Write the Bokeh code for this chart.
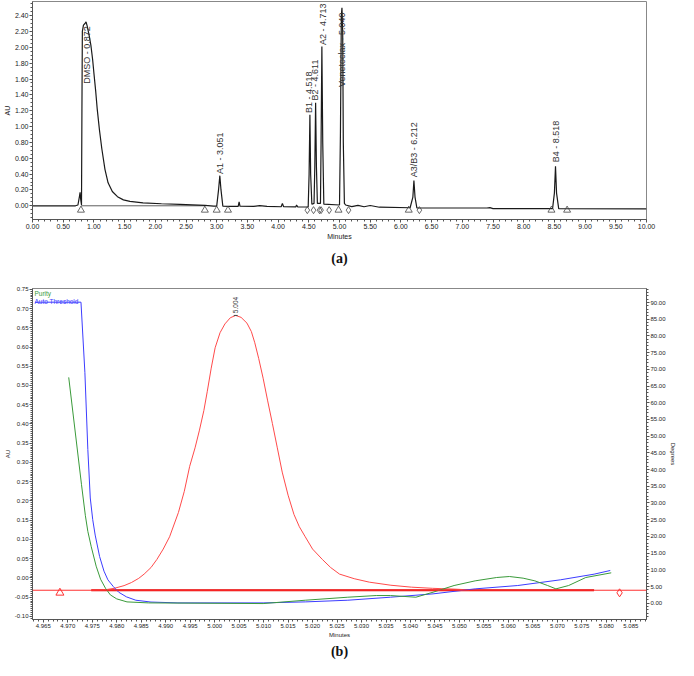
import math
from bokeh.plotting import figure
from bokeh.models import (Range1d, LinearAxis, SingleIntervalTicker, PrintfTickFormatter,
                          Label, Span, Title)
from bokeh.layouts import column
from bokeh.embed import file_html
from bokeh.resources import INLINE

# ---------------- Panel (a): full chromatogram ----------------
trace_min = [0.00, 0.70, 0.74, 0.765, 0.775, 0.785, 0.798, 0.805, 0.812, 0.830, 0.855, 0.872, 0.890,
             0.920, 0.952, 0.980, 1.002, 1.030, 1.053, 1.090, 1.129, 1.180, 1.231, 1.300, 1.384,
             1.480, 1.587, 1.800, 2.100, 2.400, 2.600, 2.810, 2.950, 3.000, 3.030, 3.051, 3.070,
             3.100, 3.200, 3.350, 3.365, 3.380, 3.600, 3.700, 3.820, 4.050, 4.070, 4.090, 4.290,
             4.300, 4.320, 4.490, 4.505, 4.518, 4.530, 4.550, 4.585, 4.598, 4.611, 4.624, 4.640,
             4.690, 4.700, 4.713, 4.727, 4.745, 5.000, 5.015, 5.030, 5.040, 5.052, 5.062, 5.080,
             5.100, 5.200, 5.300, 5.400, 5.500, 5.650, 6.150, 6.195, 6.212, 6.230, 6.260, 7.400,
             7.450, 7.500, 8.470, 8.500, 8.518, 8.535, 8.570, 10.00]
trace_au = [0.000, 0.000, 0.010, 0.120, 0.170, 0.080, 0.010, 1.200, 2.200, 2.280, 2.300, 2.320, 2.270,
            2.160, 2.020, 1.840, 1.660, 1.440, 1.230, 0.960, 0.720, 0.460, 0.290, 0.180, 0.115,
            0.075, 0.055, 0.038, 0.026, 0.018, 0.012, 0.006, -0.004, -0.004, 0.200, 0.380, 0.200,
            -0.005, -0.008, -0.008, 0.050, -0.006, -0.008, 0.002, -0.008, -0.012, 0.030, -0.012, -0.014,
            0.010, -0.014, -0.015, 0.400, 1.150, 0.400, 0.020, 0.030, 0.500, 1.300, 0.500, 0.030,
            0.030, 0.800, 2.010, 0.800, 0.020, 0.010, 0.900, 2.400, 2.500, 2.200, 0.800, 0.030,
            0.010, -0.010, 0.006, -0.012, 0.004, -0.018, -0.025, 0.110, 0.320, 0.110, -0.026, -0.028,
            -0.024, -0.036, -0.036, 0.160, 0.500, 0.160, -0.036, -0.038]

peak_labels = ["DMSO - 0.872", "A1 - 3.051", "B1 - 4.518", "B2 - 4.611", "A2 - 4.713",
               "Venetoclax - 5.040", "A3/B3 - 6.212", "B4 - 8.518"]
label_min = [0.885, 3.051, 4.505, 4.605, 4.725, 5.045, 6.215, 8.520]
label_au = [1.54, 0.40, 1.17, 1.33, 2.03, 1.50, 0.36, 0.55]

start_marks = [0.789, 2.807, 3.000, 3.184, 4.984, 6.128, 8.452, 8.707]
end_marks = [4.476, 4.577, 4.674, 4.699, 4.832, 5.147, 6.301]
mark_au = -0.055
dmso_base_min = [0.789, 2.807]
dmso_base_au = [0.0, 0.0]

# ---------------- Panel (b): peak purity of Venetoclax ----------------
red_min = [4.9748, 4.9775, 4.9795, 4.9815, 4.9830, 4.9845, 4.9856, 4.9870, 4.9882, 4.9895, 4.9908,
           4.9926, 4.9938, 4.9949, 4.9960, 4.9969, 4.9978, 4.9985, 4.9993, 5.0001, 5.0011, 5.0021,
           5.0032, 5.0043, 5.0054, 5.0066, 5.0075, 5.0082, 5.0090, 5.0099, 5.0108, 5.0118, 5.0128,
           5.0138, 5.0150, 5.0162, 5.0173, 5.0185, 5.0200, 5.0220, 5.0237, 5.0255, 5.0285, 5.0316,
           5.0360, 5.0402, 5.0445, 5.0489, 5.0520]
red_au = [-0.032, -0.031, -0.027, -0.020, -0.012, -0.001, 0.010, 0.027, 0.048, 0.075, 0.107,
          0.170, 0.225, 0.290, 0.338, 0.384, 0.435, 0.485, 0.545, 0.598, 0.637, 0.660,
          0.676, 0.682, 0.677, 0.662, 0.640, 0.611, 0.570, 0.519, 0.462, 0.401, 0.338,
          0.275, 0.215, 0.165, 0.133, 0.107, 0.075, 0.048, 0.027, 0.010, -0.002, -0.011,
          -0.019, -0.024, -0.027, -0.029, -0.031]

blue_min = [4.9633, 4.9727, 4.9735, 4.9741, 4.9746, 4.9751, 4.9756, 4.9765, 4.9774, 4.9782, 4.9793,
            4.9804, 4.9820, 4.9839, 4.9870, 4.9925, 5.0099, 5.0185, 5.0272, 5.0359, 5.0446, 5.0532,
            5.0619, 5.0706, 5.0775, 5.0808]
blue_deg = [90.1, 90.1, 69.0, 46.0, 31.5, 25.0, 20.4, 14.0, 9.6, 7.0, 5.0,
            3.3, 1.9, 0.9, 0.35, 0.1, 0.1, 0.4, 0.9, 1.8, 2.8, 4.3,
            5.3, 7.0, 8.7, 9.8]

green_min = [4.9702, 4.9728, 4.9736, 4.9741, 4.9748, 4.9758, 4.9767, 4.9777, 4.9787, 4.9800, 4.9821,
             4.9865, 5.0099, 5.0185, 5.0272, 5.0330, 5.0359, 5.0411, 5.0446, 5.0489, 5.0532, 5.0576,
             5.0602, 5.0630, 5.0654, 5.0680, 5.0697, 5.0723, 5.0758, 5.0810]
green_deg = [67.6, 35.6, 26.2, 21.5, 16.9, 11.1, 7.2, 4.5, 2.5, 1.3, 0.4,
             0.1, -0.1, 0.9, 1.8, 2.3, 2.3, 1.8, 3.3, 5.3, 6.7, 7.7,
             8.0, 7.5, 6.7, 5.3, 4.3, 5.3, 7.7, 9.1]

threshold_au = -0.032
base_b_min = [4.9748, 5.0775]
base_b_au = [-0.032, -0.032]
apex_min = 5.0043
apex_label = "5.004"
apex_au = 0.682
tri_b = (4.9684, -0.0387)
dia_b = (5.0827, -0.0387)

FONT = "Liberation Sans"
AXC = "#555555"
TXT = "#222222"


def style_axis(ax, fs, lfs):
    ax.axis_line_color = AXC
    ax.major_tick_line_color = AXC
    ax.minor_tick_line_color = AXC
    ax.major_tick_out = 3
    ax.major_tick_in = 0
    ax.minor_tick_out = 2
    ax.minor_tick_in = 0
    ax.major_label_text_font = FONT
    ax.major_label_text_font_size = fs
    ax.major_label_text_color = TXT
    ax.axis_label_text_font = FONT
    ax.axis_label_text_font_size = lfs
    ax.axis_label_text_font_style = "normal"
    ax.axis_label_text_color = TXT
    ax.major_label_standoff = 1
    ax.axis_label_standoff = 1


# ---- figure a
pa = figure(width=678, height=276, x_range=Range1d(0, 10), y_range=Range1d(-0.173, 2.578),
            output_backend="svg", toolbar_location=None,
            min_border_left=26, min_border_right=7, min_border_top=1, min_border_bottom=57)
pa.xgrid.visible = False
pa.ygrid.visible = False
pa.outline_line_color = "#888888"
pa.background_fill_color = "white"
pa.border_fill_color = "white"

pa.xaxis.ticker = SingleIntervalTicker(interval=0.5, num_minor_ticks=5)
pa.yaxis.ticker = SingleIntervalTicker(interval=0.2, num_minor_ticks=4)
pa.xaxis.formatter = PrintfTickFormatter(format="%.2f")
pa.yaxis.formatter = PrintfTickFormatter(format="%.2f")
pa.xaxis.axis_label = "Minutes"
pa.yaxis.axis_label = "AU"
style_axis(pa.xaxis[0], "7px", "7px")
style_axis(pa.yaxis[0], "7px", "7px")

pa.line(dmso_base_min, dmso_base_au, line_color="#333333", line_width=0.8)
pa.line(trace_min, trace_au, line_color="#1a1a1a", line_width=1.2)
pa.scatter(start_marks, [mark_au] * len(start_marks), marker="triangle", size=7,
           fill_color=None, line_color="#444444", line_width=0.8)
pa.scatter(end_marks, [mark_au] * len(end_marks), marker="diamond", size=7,
           fill_color=None, line_color="#444444", line_width=0.8)
for tx, ty, lab in zip(label_min, label_au, peak_labels):
    pa.add_layout(Label(x=tx, y=ty, text=lab, angle=math.pi / 2, text_align="left",
                        text_baseline="middle", text_font_size="9px", text_font=FONT,
                        text_color="#333333"))
pa.add_layout(Title(text="(a)", align="center", text_font="Liberation Serif",
                    text_font_size="14px", text_font_style="bold", text_color="#111111",
                    standoff=13), "below")

# ---- figure b
pb = figure(width=678, height=384, x_range=Range1d(4.9628, 5.0882), y_range=Range1d(-0.108, 0.752),
            output_backend="svg", toolbar_location=None,
            min_border_left=22, min_border_right=24, min_border_top=12, min_border_bottom=39)
pb.xgrid.visible = False
pb.ygrid.visible = False
pb.outline_line_color = "#888888"
pb.extra_y_ranges = {"deg": Range1d(-4.87, 94.2)}

pb.xaxis.ticker = SingleIntervalTicker(interval=0.005, num_minor_ticks=5)
pb.yaxis.ticker = SingleIntervalTicker(interval=0.05, num_minor_ticks=10)
pb.xaxis.formatter = PrintfTickFormatter(format="%.3f")
pb.yaxis.formatter = PrintfTickFormatter(format="%.2f")
pb.xaxis.axis_label = "Minutes"
pb.yaxis.axis_label = "AU"
style_axis(pb.xaxis[0], "6px", "6px")
style_axis(pb.yaxis[0], "6px", "6px")
ax_r = LinearAxis(y_range_name="deg", axis_label="Degrees",
                  ticker=SingleIntervalTicker(interval=5, num_minor_ticks=5),
                  formatter=PrintfTickFormatter(format="%.2f"))
style_axis(ax_r, "6px", "6px")
pb.add_layout(ax_r, "right")

pb.add_layout(Span(location=threshold_au, dimension="width", line_color="#ff3030", line_width=1))
pb.line(base_b_min, base_b_au, line_color="#e00000", line_width=2)
pb.line(red_min, red_au, line_color="#ff4a4a", line_width=1)
pb.line(blue_min, blue_deg, y_range_name="deg", line_color="#3c3cff", line_width=1)
pb.line(green_min, green_deg, y_range_name="deg", line_color="#3a9a3a", line_width=1)
pb.scatter([tri_b[0]], [tri_b[1]], marker="triangle", size=8, fill_color=None,
           line_color="#ff3030", line_width=1)
pb.scatter([dia_b[0]], [dia_b[1]], marker="diamond", size=8, fill_color=None,
           line_color="#ff3030", line_width=1)
pb.segment([apex_min - 0.0004], [apex_au], [apex_min + 0.0004], [apex_au], line_color="#444444")
pb.add_layout(Label(x=apex_min, y=apex_au + 0.006, text=apex_label, angle=math.pi / 2,
                    text_align="left", text_baseline="middle", text_font_size="6.5px",
                    text_font=FONT, text_color="#333333"))
pb.add_layout(Label(x=4.9632, y=0.7397, text="Purity", text_align="left", text_baseline="middle",
                    text_font_size="6.5px", text_font=FONT, text_color="#3a9a3a"))
pb.add_layout(Label(x=4.9632, y=0.7177, text="Auto Threshold", text_align="left",
                    text_baseline="middle", text_font_size="6.5px", text_font=FONT,
                    text_color="#3c3cff"))
pb.add_layout(Title(text="(b)", align="center", text_font="Liberation Serif",
                    text_font_size="14px", text_font_style="bold", text_color="#111111",
                    standoff=3), "below")

layout = column(pa, pb, spacing=0)
open("out.html", "w").write(file_html(layout, INLINE))
